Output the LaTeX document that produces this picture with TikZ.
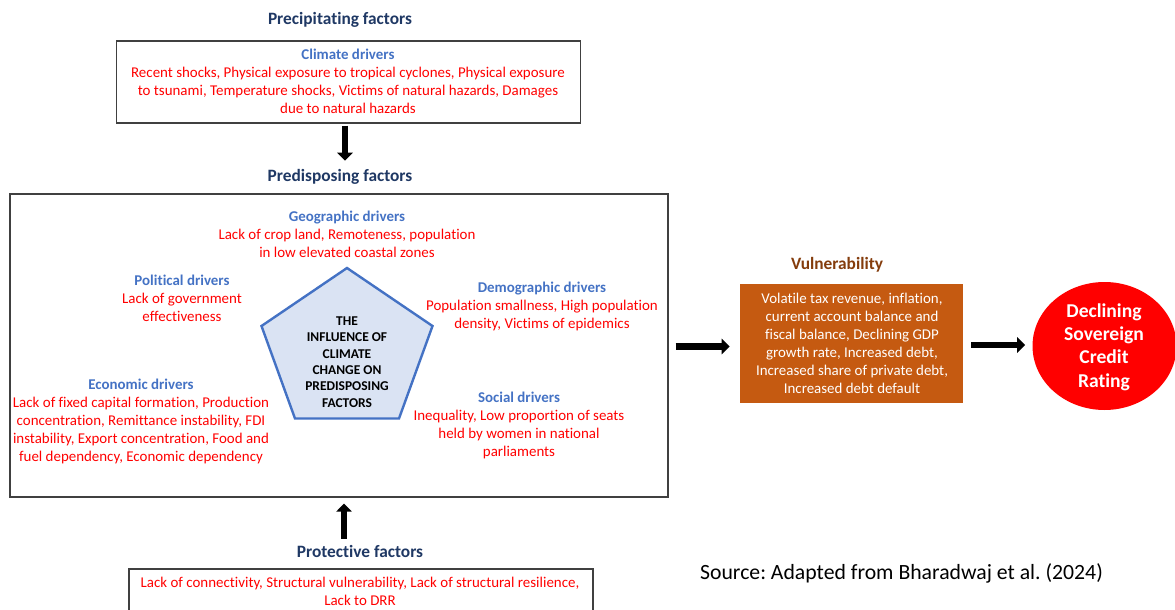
\documentclass[tikz,border=0pt]{standalone}
\usepackage{fontspec}
\setmainfont{Carlito}[Ligatures=NoCommon]
\usetikzlibrary{arrows.meta,shapes.geometric,calc}
\frenchspacing

\definecolor{navy}{HTML}{1F3864}
\definecolor{drvblue}{HTML}{4472C4}
\definecolor{txtred}{HTML}{FF0000}
\definecolor{boxgray}{HTML}{404040}
\definecolor{rust}{HTML}{843C0C}
\definecolor{burnt}{HTML}{C55A11}
\definecolor{pentfill}{HTML}{DAE3F3}

\newcommand{\drv}[1]{{\color{drvblue}\bfseries #1}}

\begin{document}
\begin{tikzpicture}[
  x=0.75pt, y=-0.75pt,
  frame/.style={draw=boxgray, line width=1pt, rectangle, inner sep=0pt},
  body/.style={font=\fontsize{11.2}{13.5}\selectfont, text=txtred, align=center, inner sep=0pt},
  head/.style={font=\fontsize{13}{15}\selectfont\bfseries, text=navy, inner sep=0pt},
  bigarrow/.style={line width=4.9pt, -{Triangle[width=11.5pt, length=6pt]}},
]
\useasboundingbox (0,0) rectangle (1175,610);
\clip (0,0) rectangle (1175,610);

% Precipitating factors
\node[head] (ptitle) at (340,20) {Precipitating factors};
\node[frame, minimum width=348pt, minimum height=61.5pt] (climbox) at (348.5,82) {};
\node[body] (clim) at (348,81) {\drv{Climate drivers}\\
  Recent shocks, Physical exposure to tropical cyclones, Physical exposure\\
  to tsunami, Temperature shocks, Victims of natural hazards, Damages\\
  due to natural hazards};

\draw[bigarrow] ($(climbox.south)+(-3.5,2)$) -- ($(climbox.south)+(-3.5,37)$);

% Predisposing factors
\node[head] (dtitle) at (340,177) {Predisposing factors};
\node[frame, minimum width=493.5pt, minimum height=227.25pt] (bigbox) at (339,345.5) {};

\draw[draw=drvblue, fill=pentfill, line width=1.8pt, line join=miter]
  (347,268) -- (432.5,326) -- (399,418.5) -- (295,418.5) -- (261.5,326) -- cycle;
\node[font=\fontsize{10.1}{12.3}\selectfont\bfseries, align=center, inner sep=0pt] (pent) at (347,362)
  {THE\\INFLUENCE OF\\CLIMATE\\CHANGE ON\\PREDISPOSING\\FACTORS};

\node[body] (geo) at (347,234.5) {\drv{Geographic drivers}\\
  Lack of crop land, Remoteness, population\\in low elevated coastal zones};
\node[body] (pol) at (182,298) {\drv{Political drivers}\\
  Lack of government\\effectiveness};
\node[body] (dem) at (542,306) {\drv{Demographic drivers}\\
  Population smallness, High population\\density, Victims of epidemics};
\node[body] (eco) at (141,421) {\drv{Economic drivers}\\
  Lack of fixed capital formation, Production\\
  concentration, Remittance instability, FDI\\
  instability, Export concentration, Food and\\
  fuel dependency, Economic dependency};
\node[body] (soc) at (519,425) {\drv{Social drivers}\\
  Inequality, Low proportion of seats\\held by women in national\\parliaments};

% Vulnerability
\node[font=\fontsize{13}{15}\selectfont\bfseries, text=rust, inner sep=0pt] (vtitle) at (837,265) {Vulnerability};
\node[fill=burnt, minimum width=167.25pt, minimum height=89.25pt, inner sep=0pt] (vulbox) at (851.5,343.5) {};
\node[body, text=white] (vul) at (852,343) {Volatile tax revenue, inflation,\\
  current account balance and\\fiscal balance, Declining GDP\\growth rate, Increased debt,\\
  Increased share of private debt,\\Increased debt default};

\draw[bigarrow] ($(bigbox.east)+(7,1)$) -- ($(vulbox.west)+(-10,3)$);

% Outcome
\node[ellipse, fill=txtred, minimum width=108pt, minimum height=96pt, inner sep=0pt] (rating) at (1104.5,346) {};
\node[font=\fontsize{14.7}{17.5}\selectfont\bfseries, text=white, align=center, inner sep=0pt] (ratingtxt) at (1104,347)
  {Declining\\Sovereign\\Credit\\Rating};

\draw[bigarrow] ($(vulbox.east)+(8,1.5)$) -- ($(rating.west)+(-7,-1)$);

% Protective factors
\draw[bigarrow] ($(bigbox.south)+(5,41)$) -- ($(bigbox.south)+(5,6)$);
\node[head] (prtitle) at (360,551.5) {Protective factors};
\node[frame, minimum width=348pt, minimum height=45pt] (protbox) at (361,599) {};
\node[body] (prot) at (360,591.5) {Lack of connectivity, Structural vulnerability, Lack of structural resilience,\\Lack to DRR};

% Source note
\node[font=\fontsize{16.3}{19}\selectfont, inner sep=0pt] (src) at (901.5,573) {Source: Adapted from Bharadwaj et al. (2024)};
\end{tikzpicture}
\end{document}
